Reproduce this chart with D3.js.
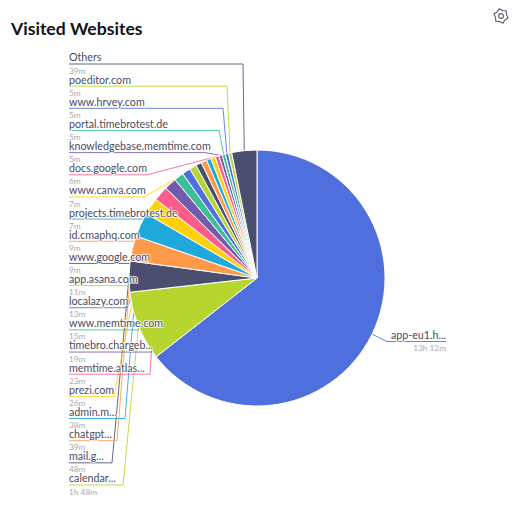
<!DOCTYPE html>
<html>
<head>
<meta charset="utf-8">
<script src="https://cdn.jsdelivr.net/npm/d3@7"></script>
<style>
  body { margin: 0; background: #fff; }
  text { font-family: Lato, sans-serif; }
  .name { font-size: 10.7px; fill: #4a4c5e; paint-order: stroke; stroke: #fff; stroke-width: 1.6px; stroke-linejoin: round; }
  .value { font-size: 8.3px; fill: #a9a9ae; }
</style>
</head>
<body>
<div class="chart"></div>
<script>
// DATA ------------------------------------
const sites = ['app-eu1.h...', 'calendar...', 'mail.g...', 'chatgpt...', 'admin.m...', 'prezi.com',
  'memtime.atlas...', 'timebro.chargeb...', 'www.memtime.com', 'localazy.com', 'app.asana.com',
  'www.google.com', 'id.cmaphq.com', 'projects.timebrotest.de', 'www.canva.com', 'docs.google.com',
  'knowledgebase.memtime.com', 'portal.timebrotest.de', 'www.hrvey.com', 'poeditor.com', 'Others'];
const minutes = [792, 108, 48, 39, 38, 26, 23, 19, 15, 13, 11, 9, 9, 7, 7, 6, 5, 5, 5, 5, 39];
const durations = ['13h 12m', '1h 48m', '48m', '39m', '38m', '26m', '23m', '19m', '15m', '13m', '11m',
  '9m', '9m', '7m', '7m', '6m', '5m', '5m', '5m', '5m', '39m'];
const palette = ['#4f6fde', '#b6d52f', '#4c4e70', '#ff9a4a', '#20a8dd', '#ffd10a', '#ff5c8c', '#7559ad', '#3cbf96'];

// where each label's underline turns towards its slice
const elbows = [387, 123, 112, 117, 125, 114, 150, 152, 139, 127, 128, 150, 140, 150, 144, 147, 205, 219, 223, 227, 243];

// CHART INIT ------------------------------
const width = 517;
const height = 509;
const cx = 257;
const cy = 278;
const radius = 128;
const labelLeft = 69;
const rightLabelEnd = 446;
const rightLabelY = 341.5;

const svg = d3.select('.chart').append('svg')
  .attr('width', width)
  .attr('height', height)
  .style('display', 'block');

svg.append('text')
  .attr('x', 11)
  .attr('y', 35)
  .attr('font-size', 17.6)
  .attr('font-weight', 700)
  .attr('fill', '#12131a')
  .text('Visited Websites');

// settings gear, top right
const gear = svg.append('g').attr('transform', 'translate(501,16)');
gear.append('path')
  .attr('d', d3.range(12).map((i) => {
    const a = (i / 12) * 2 * Math.PI - Math.PI / 12;
    const r = i % 2 === 0 ? 7.4 : 5.6;
    return (i === 0 ? 'M' : 'L') + (r * Math.sin(a)).toFixed(2) + ',' + (-r * Math.cos(a)).toFixed(2);
  }).join('') + 'Z')
  .attr('fill', 'none')
  .attr('stroke', '#5a5c6c')
  .attr('stroke-width', 1.1)
  .attr('stroke-linejoin', 'round');
gear.append('circle').attr('r', 2.4).attr('fill', 'none').attr('stroke', '#5a5c6c').attr('stroke-width', 1.1);

// scales
const color = d3.scaleOrdinal().domain(sites).range(palette);
const rowY = d3.scalePoint().domain(sites.slice(1).reverse()).range([64, 485]);

const pie = d3.pie().sort(null).value((d) => d.minutes);
const arc = d3.arc().innerRadius(0).outerRadius(radius);
const edge = d3.arc().innerRadius(radius).outerRadius(radius);

const slices = pie(sites.map((s, i) => ({ site: s, minutes: minutes[i], duration: durations[i], elbow: elbows[i] })));

// label lines sit under the pie
const y = (d) => (d.index === 0 ? rightLabelY : rowY(d.data.site));
const end = (d) => (d.index === 0 ? rightLabelEnd : labelLeft);

svg.append('g').selectAll('polyline')
  .data(slices)
  .join('polyline')
  .attr('fill', 'none')
  .attr('stroke', (d) => color(d.data.site))
  .attr('stroke-opacity', 0.85)
  .attr('stroke-width', 1)
  .attr('points', (d) => {
    const p = edge.centroid(d);
    return [[p[0] + cx, p[1] + cy], [d.data.elbow, y(d)], [end(d), y(d)]].join(' ');
  });

const group = svg.append('g').attr('transform', 'translate(' + cx + ',' + cy + ')');

group.selectAll('path')
  .data(slices)
  .join('path')
  .attr('d', arc)
  .attr('fill', (d) => color(d.data.site))
  .attr('stroke', '#fff')
  .attr('stroke-width', 1);

// labels on top: name above the line, duration below
const labels = svg.append('g').selectAll('g')
  .data(slices)
  .join('g')
  .attr('text-anchor', (d) => (d.index === 0 ? 'end' : 'start'));

labels.append('text')
  .attr('class', 'name')
  .attr('x', end)
  .attr('y', (d) => y(d) - 2.6)
  .text((d) => d.data.site);

labels.append('text')
  .attr('class', 'value')
  .attr('x', end)
  .attr('y', (d) => y(d) + 9.6)
  .text((d) => d.data.duration);
</script>
</body>
</html>
